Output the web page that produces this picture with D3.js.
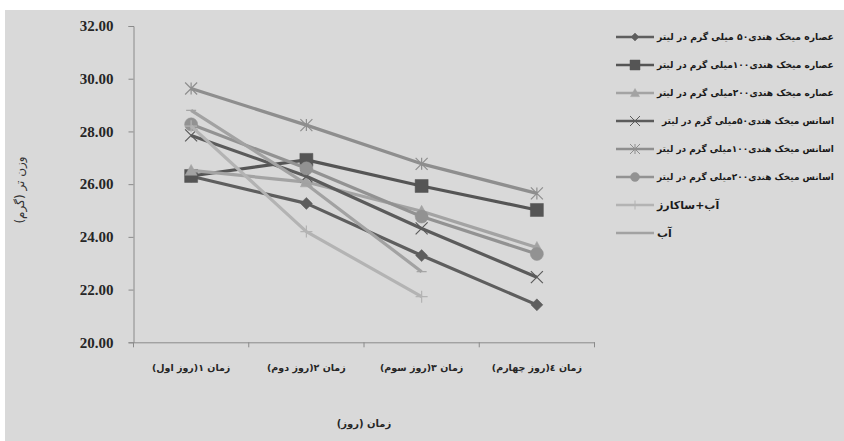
<!DOCTYPE html>
<html><head><meta charset="utf-8">
<script src="https://cdn.jsdelivr.net/npm/d3@7"></script>
<style>
body{margin:0;background:#fff;}
svg{display:block;}
</style></head>
<body>
<svg id="chart" width="844" height="441"></svg>
<script>
const categories = ["زمان ۱(روز اول)", "زمان ۲(روز دوم)", "زمان ۳(روز سوم)", "زمان ٤(روز چهارم)"];
const yTicks = [20, 22, 24, 26, 28, 30, 32];
const seriesNames = [
  "عصاره میخک هندی۵۰ میلی گرم در لیتر",
  "عصاره میخک هندی۱۰۰میلی گرم در لیتر",
  "عصاره میخک هندی۲۰۰میلی گرم در لیتر",
  " اسانس میخک هندی۵۰میلی گرم در لیتر",
  "اسانس میخک هندی۱۰۰میلی گرم در لیتر",
  "اسانس میخک هندی۲۰۰میلی گرم در لیتر",
  "آب+ساکارز",
  "آب"
];
const s1 = [26.3, 25.27, 23.29, 21.42];
const s2 = [26.31, 26.92, 25.93, 25.02];
const s3 = [26.52, 26.08, 24.97, 23.6];
const s4 = [27.85, 26.3, 24.32, 22.47];
const s5 = [29.63, 28.24, 26.77, 25.65];
const s6 = [28.27, 26.6, 24.77, 23.35];
const s7 = [28.2, 24.2, 21.73];
const s8 = [28.8, 26.0, 22.68];
const seriesValues = [s1, s2, s3, s4, s5, s6, s7, s8];
const colors = ["#5e5e5e", "#555555", "#a3a3a3", "#5b5b5b", "#8e8e8e", "#929292", "#b3b3b3", "#a2a2a2"];
const markers = ["diamond", "square", "triangle", "x", "asterisk", "circle", "plus", "dash"];
const xTitle = "زمان (روز)";
const yTitle = "وزن تر (گرم)";

const svg = d3.select("#chart");
svg.append("rect").attr("x", 5).attr("y", 10).attr("width", 839).attr("height", 431).attr("fill", "#d9d9d9");

const pL = 133.5, pR = 594.5, pT = 26, pB = 342.3;
const x = d3.scaleBand().domain(categories).range([pL, pR]);
const y = d3.scaleLinear().domain([20, 32]).range([pB, pT]);

const axisColor = "#8a8a8a";
// y axis
const yAxis = svg.append("g").attr("transform", `translate(${pL},0)`)
  .call(d3.axisLeft(y).tickValues(yTicks).tickSize(5).tickPadding(15).tickFormat(d3.format(".2f")));
yAxis.select(".domain").attr("stroke", axisColor);
yAxis.selectAll(".tick line").attr("stroke", axisColor);
yAxis.selectAll("text").attr("font-family", "Liberation Serif").attr("font-weight", "bold")
  .attr("font-size", 15).attr("fill", "#262626");

// x axis
const xAxis = svg.append("g").attr("transform", `translate(0,${pB})`)
  .call(d3.axisBottom(x).tickSize(0).tickPadding(22));
xAxis.select(".domain").attr("stroke", axisColor);
xAxis.selectAll("text").attr("font-family", "DejaVu Sans").attr("font-weight", "bold")
  .attr("font-size", 9.5).attr("fill", "#262626");
// boundary ticks
const bounds = categories.map(c => x(c)).concat([pR]);
svg.append("g").selectAll("line").data(bounds).join("line")
  .attr("x1", d => d).attr("x2", d => d).attr("y1", pB).attr("y2", pB + 5)
  .attr("stroke", axisColor);

// titles
svg.append("text").attr("x", x.bandwidth() * 2 + pL).attr("y", 427).attr("text-anchor", "middle")
  .attr("font-family", "DejaVu Sans").attr("font-weight", "bold").attr("font-size", 10).attr("fill", "#262626")
  .text(xTitle);
svg.append("text").attr("transform", "translate(24,190) rotate(-90)").attr("text-anchor", "middle")
  .attr("font-family", "DejaVu Sans").attr("font-size", 12).attr("fill", "#333").text(yTitle);

function markerPath(type, s) {
  const h = s / 2;
  switch (type) {
    case "diamond": return `M0,${-h}L${h},0L0,${h}L${-h},0Z`;
    case "square": return `M${-h},${-h}H${h}V${h}H${-h}Z`;
    case "triangle": return `M0,${-h}L${h},${h * 0.8}L${-h},${h * 0.8}Z`;
    case "circle": return d3.symbol(d3.symbolCircle, Math.PI * h * h)();
    case "x": return `M${-h},${-h}L${h},${h}M${h},${-h}L${-h},${h}`;
    case "asterisk": return `M${-h},${-h}L${h},${h}M${h},${-h}L${-h},${h}M0,${-h}V${h}`;
    case "plus": return `M${-h},0H${h}M0,${-h}V${h}`;
    case "dash": return `M${-h},0H${h}`;
  }
}
const filled = t => ["diamond", "square", "triangle", "circle"].includes(t);
const markerSize = {diamond: 12, square: 13, triangle: 12, circle: 13, x: 12, asterisk: 12, plus: 12, dash: 10};
const legendSize = {diamond: 8, square: 10, triangle: 9, circle: 9, x: 10, asterisk: 10, plus: 9, dash: 8};

const line = d3.line().x((d, i) => x(categories[i]) + x.bandwidth() / 2).y(d => y(d));
seriesValues.forEach((vals, si) => {
  const g = svg.append("g");
  g.append("path").attr("d", line(vals)).attr("fill", "none").attr("stroke", colors[si])
    .attr("stroke-width", 3.2).attr("stroke-linejoin", "round");
  g.selectAll("path.m").data(vals).join("path").attr("class", "m")
    .attr("transform", (d, i) => `translate(${x(categories[i]) + x.bandwidth() / 2},${y(d)})`)
    .attr("d", markerPath(markers[si], markerSize[markers[si]]))
    .attr("fill", filled(markers[si]) ? colors[si] : "none")
    .attr("stroke", colors[si]).attr("stroke-width", filled(markers[si]) ? 0.5 : 1.2);
});

// legend
const leg = svg.append("g");
seriesNames.forEach((name, i) => {
  const ly = 37 + i * 28;
  const m = markers[i];
  leg.append("line").attr("x1", 616).attr("x2", 654).attr("y1", ly).attr("y2", ly)
    .attr("stroke", colors[i]).attr("stroke-width", 2.5);
  leg.append("path").attr("transform", `translate(635,${ly})`).attr("d", markerPath(m, legendSize[m]))
    .attr("fill", filled(m) ? colors[i] : "none").attr("stroke", colors[i])
    .attr("stroke-width", filled(m) ? 0.5 : 1);
  const tx = name.startsWith(" ") ? 662 : 657;
  const t = leg.append("text").attr("x", tx).attr("y", ly).attr("dy", "0.35em")
    .attr("font-family", "DejaVu Sans").attr("font-weight", "bold").attr("font-size", 11)
    .attr("fill", "#1a1a1a").text(name.trim());
  const w = t.node().getComputedTextLength();
  const maxW = 834 - tx;
  if (w > maxW) t.attr("font-size", 11 * maxW / w);
});
</script>
</body></html>
